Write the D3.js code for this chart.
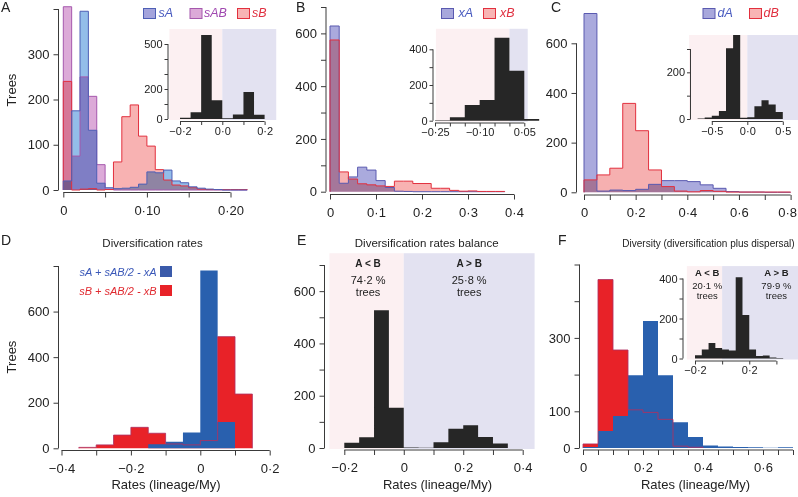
<!DOCTYPE html>
<html><head><meta charset="utf-8">
<script src="https://cdn.jsdelivr.net/npm/d3@7"></script>
<style>
body{margin:0;background:#fff}
svg{display:block}
text{font-family:"Liberation Sans",Arial,Helvetica,sans-serif}
</style>
</head><body>
<svg id="c" width="798" height="497"></svg>
<script>
// ================= DATA =================
// Panel A : speciation rates (bins of 0.01 starting at 0)
const aStart = 0, aWidth = 0.01;
const sA  = [20,175,395,132,15,5,3,4,6,13,40,38,44,20,16,7,4,2,1,0,0,0];
const sAB = [405,75,250,207,56,2,0,0,0,0,0,0,0,0,0,0,0,0,0,0,0,0];
const sB  = [240,0,2,3,0,1,62,162,188,119,97,45,22,11,9,5,2,1,1,1,1,1];
const aInsetStart = -0.2, aInsetWidth = 0.05;
const aInset = [8,45,560,125,5,30,180,28];
// Panel B : extinction rates (bins of 0.02)
const bStart = 0, bWidth = 0.02;
const xA = [628,32,56,93,82,42,16,2,1,0,0,0,0,0,0,0,0,0,0];
const xB = [575,75,48,30,26,22,20,40,40,31,31,13,13,5,2,3,1,1,1];
const bInsetStart = -0.25, bInsetWidth = 0.05;
const bInset = [3,19,88,116,465,280,9];
// Panel C : dispersal rates (bins of 0.05)
const cStart = 0, cWidth = 0.05;
const dA = [720,5,9,7,12,32,47,47,43,30,16,3,1,1,0,0];
const dB = [50,70,97,358,248,90,23,5,2,7,4,1,1,1,1,1];
const cInsetStart = -0.7, cInsetWidth = 0.1;
const cInset = [2,6,14,34,303,360,5,8,55,80,62,30];
// Panel D : diversification rates (bins of 0.05 from -0.35)
const dStart = -0.35, dWidth = 0.05;
const divA = [0,0,0,0,18,29,69,780,115,0];
const divB = [4,15,58,92,66,19,15,34,490,238];
// Panel E : balance (bins of 0.05 from -0.2)
const eStart = -0.2, eWidth = 0.05;
const balance = [20,41,527,154,2,1,22,74,87,42,17];
const eNotes = [["A < B","74·2 %","trees"],["A > B","25·8 %","trees"]];
// Panel F : diversity (bins of 0.05 from 0)
const fStart = 0, fWidth = 0.05;
const diversityA = [3,46,87,198,346,198,70,30,7,4,3,2,1,2];
const diversityB = [11,459,267,104,97,78,5,2];
const fInsetStart = -0.2, fInsetWidth = 0.05;
const fInset = [16,45,77,52,45,40,406,218,45,13,15,5,3];
const fNotes = [["A < B","20·1 %","trees"],["A > B","79·9 %","trees"]];

// tick values / labels
const aXTicks=[0,0.05,0.1,0.15,0.2], aXLabels=["0","","0·10","","0·20"];
const aYTicks=[0,100,200,300,400], aYLabels=["0","100","200","300",""];
const aiXTicks=[-0.2,-0.1,0,0.1,0.2], aiXLabels=["−0·2","","0·0","","0·2"];
const aiYTicks=[0,100,200,300,400,500], aiYLabels=["0","","200","","","500"];
const bXTicks=[0,0.1,0.2,0.3,0.4], bXLabels=["0","0·1","0·2","0·3","0·4"];
const bYTicks=[0,100,200,300,400,500,600,700], bYLabels=["0","","200","","400","","600",""];
const biXTicks=[-0.25,-0.2,-0.15,-0.1,-0.05,0,0.05], biXLabels=["−0·25","","","−0·10","","","0·05"];
const biYTicks=[0,100,200,300,400], biYLabels=["0","","200","","400"];
const cXTicks=[0,0.1,0.2,0.3,0.4,0.5,0.6,0.7,0.8], cXLabels=["0","","0·2","","0·4","","0·6","","0·8"];
const cYTicks=[0,200,400,600], cYLabels=["0","200","400","600"];
const ciXTicks=[-0.5,0,0.5], ciXLabels=["−0·5","0·0","0·5"];
const ciYTicks=[0,100,200,300], ciYLabels=["0","","200",""];
const dXTicks=[-0.4,-0.3,-0.2,-0.1,0,0.1,0.2], dXLabels=["−0·4","","−0·2","","0","","0·2"];
const dYTicks=[0,200,400,600,800], dYLabels=["0","200","400","600",""];
const eXTicks=[-0.2,-0.1,0,0.1,0.2,0.3,0.4], eXLabels=["−0·2","","0","","0·2","","0·4"];
const eYTicks=[0,100,200,300,400,500,600,700], eYLabels=["0","","200","","400","","600",""];
const fXTicks=[0,0.05,0.1,0.15,0.2,0.25,0.3,0.35,0.4,0.45,0.5,0.55,0.6,0.65,0.7],
      fXLabels=["0","","","","0·2","","","","0·4","","","","0·6","",""];
const fYTicks=[0,100,200,300,400,500], fYLabels=["0","100","","300","",""];
const fiXTicks=[-0.2,0,0.2,0.4], fiXLabels=["−0·2","","0·2",""];
const fiYTicks=[0,100,200,300,400], fiYLabels=["0","","200","","400"];

// ================= DRAWING =================
const svg = d3.select("#c");
const AX = "#3a3a3a", TX = "#222";
const PINK = "#fcf0f2", LAV = "#e3e2f1", BAR = "#262626";

function xAxis(x, yPos, ticks, labels, fs, tick, pad){
  const ax = d3.axisBottom(x).tickValues(ticks).tickFormat((d,i)=>labels[i])
    .tickSizeOuter(0).tickSize(tick).tickPadding(pad);
  const g = svg.append("g").attr("transform",`translate(0,${yPos})`).call(ax);
  g.select(".domain").attr("d",`M${x(ticks[0])},0H${x(ticks[ticks.length-1])}`);
  g.attr("font-family",null).attr("font-size",fs);
  g.selectAll("line,path").attr("stroke",AX);
  g.selectAll("text").attr("fill",TX);
  return g;
}
function yAxis(y, xPos, ticks, labels, fs, tick, pad){
  const ax = d3.axisLeft(y).tickValues(ticks).tickFormat((d,i)=>labels[i])
    .tickSizeOuter(0).tickSize(tick).tickPadding(pad);
  const g = svg.append("g").attr("transform",`translate(${xPos},0)`).call(ax);
  g.select(".domain").attr("d",`M0,${y(ticks[0])}V${y(ticks[ticks.length-1])}`);
  g.attr("font-family",null).attr("font-size",fs);
  g.selectAll("line,path").attr("stroke",AX);
  g.selectAll("text").attr("fill",TX);
  return g;
}
function pts(counts,start,width){
  const p=[{v:start,c:0}];
  counts.forEach((c,i)=>p.push({v:start+i*width,c}));
  p.push({v:start+counts.length*width,c:0});
  return p;
}
function histFill(x,y,counts,start,width,fill,blend){
  const area = d3.area().x(d=>x(d.v)).y0(y(0)).y1(d=>y(d.c)).curve(d3.curveStepAfter);
  const p = svg.append("path").attr("d",area(pts(counts,start,width))).attr("fill",fill);
  if(blend) p.style("mix-blend-mode","multiply");
  return p;
}
function histLine(x,y,counts,start,width,stroke,w){
  const line = d3.line().x(d=>x(d.v)).y(d=>y(d.c)).curve(d3.curveStepAfter);
  return svg.append("path").attr("d",line(pts(counts,start,width)))
    .attr("fill","none").attr("stroke",stroke).attr("stroke-width",w||1);
}
function bg(x,y,v0,vMid,v1,top){
  svg.append("rect").attr("x",x(v0)).attr("y",y(top)).attr("width",x(vMid)-x(v0))
    .attr("height",y(0)+1-y(top)).attr("fill",PINK);
  svg.append("rect").attr("x",x(vMid)).attr("y",y(top)).attr("width",x(v1)-x(vMid))
    .attr("height",y(0)+1-y(top)).attr("fill",LAV);
}
function txt(x,y,s,o){
  o=o||{};
  const t=svg.append("text").attr("x",x).attr("y",y).text(s)
    .attr("font-size",o.fs||13).attr("fill",o.fill||TX)
    .attr("text-anchor",o.anchor||"start");
  if(o.italic) t.attr("font-style","italic");
  if(o.bold) t.attr("font-weight","bold");
  if(o.rot) t.attr("transform",`rotate(-90,${x},${y})`);
  return t;
}
function swatch(x,y,fill,stroke){
  svg.append("rect").attr("x",x).attr("y",y).attr("width",12).attr("height",10)
    .attr("fill",fill).attr("stroke",stroke).attr("stroke-width",1);
}

// ---------- Panel A ----------
{
  const x = d3.scaleLinear().domain([0,0.22]).range([63.3,63.3+0.22*836]);
  const y = d3.scaleLinear().domain([0,400]).range([190,9]);
  histFill(x,y,sAB,aStart,aWidth,"#dcaad8",true);
  histFill(x,y,sB,aStart,aWidth,"#f8b2b2",true);
  histFill(x,y,sA,aStart,aWidth,"#93bde9",true);
  histLine(x,y,sAB,aStart,aWidth,"#a558ad");
  histLine(x,y,sB,aStart,aWidth,"#e2303e");
  histLine(x,y,sA,aStart,aWidth,"#4e5fb5");
  xAxis(x,192.5,aXTicks,aXLabels,13,5,8);
  yAxis(y,58.5,aYTicks,aYLabels,13,5,4);
  // inset
  const xi = d3.scaleLinear().domain([-0.2,0.2]).range([180,264.6]);
  const yi = d3.scaleLinear().domain([0,500]).range([119,44]);
  bg(xi,yi,-0.25,0,0.255,600);
  histFill(xi,yi,aInset,aInsetStart,aInsetWidth,BAR,false);
  xAxis(xi,121.5,aiXTicks,aiXLabels,11,3.5,2);
  yAxis(yi,168,aiYTicks,aiYLabels,11,3.5,2);
  // legend
  swatch(143.5,8.5,"#a4a4dc","#4e5fb5"); txt(158.5,17,"sA",{italic:true,fs:12.5,fill:"#4a5cc0"});
  swatch(190,8.5,"#dcaad8","#a558ad"); txt(204,17,"sAB",{italic:true,fs:12.5,fill:"#a048b0"});
  swatch(237.5,8.5,"#f8b4b4","#e2303e"); txt(252,17,"sB",{italic:true,fs:12.5,fill:"#e03040"});
  txt(1,12,"A",{fs:14});
  txt(16,90,"Trees",{fs:13,anchor:"middle",rot:true});
}
// ---------- Panel B ----------
{
  const x = d3.scaleLinear().domain([0,0.4]).range([330,514]);
  const y = d3.scaleLinear().domain([0,700]).range([191.7,7]);
  histFill(x,y,xB,bStart,bWidth,"#f8b2b2",true);
  histFill(x,y,xA,bStart,bWidth,"#aaaadd",true);
  histLine(x,y,xA,bStart,bWidth,"#5a5ab0");
  histLine(x,y,xB,bStart,bWidth,"#e2303e");
  xAxis(x,194.5,bXTicks,bXLabels,13,5,8);
  yAxis(y,326,bYTicks,bYLabels,13,5,4);
  const xi = d3.scaleLinear().domain([-0.25,0.05]).range([435,524.3]);
  const yi = d3.scaleLinear().domain([0,400]).range([120.7,49.3]);
  bg(xi,yi,-0.247,0,0.0615,515);
  histFill(xi,yi,bInset,bInsetStart,bInsetWidth,BAR,false);
  xAxis(xi,123,biXTicks,biXLabels,11,3.5,2);
  yAxis(yi,433,biYTicks,biYLabels,11,3.5,2);
  swatch(441.5,8.5,"#a8a8dc","#5a5ab0"); txt(458.5,17,"xA",{italic:true,fs:12.5,fill:"#4a5cc0"});
  swatch(483.5,8.5,"#f8b4b4","#e2303e"); txt(500,17,"xB",{italic:true,fs:12.5,fill:"#e03040"});
  txt(296,12,"B",{fs:14});
}
// ---------- Panel C ----------
{
  const x = d3.scaleLinear().domain([0,0.8]).range([584,790.6]);
  const y = d3.scaleLinear().domain([0,600]).range([192.3,43.3]);
  histFill(x,y,dA,cStart,cWidth,"#aaaadd",true);
  histFill(x,y,dB,cStart,cWidth,"#f6b0b0",true);
  histLine(x,y,dA,cStart,cWidth,"#5a5ab0");
  histLine(x,y,dB,cStart,cWidth,"#e2303e");
  const gx = xAxis(x,195,cXTicks,cXLabels,13,5,8);
  gx.selectAll("text").filter((d,i)=>i===cXTicks.length-1).attr("dx",-3.5);
  yAxis(y,576.5,cYTicks,cYLabels,13,5,4);
  const xi = d3.scaleLinear().domain([-0.5,0.5]).range([711.8,782.8]);
  const yi = d3.scaleLinear().domain([0,300]).range([119,49]);
  bg(xi,yi,-0.82,0,0.73,360);
  histFill(xi,yi,cInset,cInsetStart,cInsetWidth,BAR,false);
  xAxis(xi,121.5,ciXTicks,ciXLabels,11,3.5,2);
  yAxis(yi,690.5,ciYTicks,ciYLabels,11,3.5,2);
  swatch(703,8.5,"#a8a8dc","#5a5ab0"); txt(717.5,17,"dA",{italic:true,fs:12.5,fill:"#4a5cc0"});
  swatch(749.5,8.5,"#f8b4b4","#e2303e"); txt(763.5,17,"dB",{italic:true,fs:12.5,fill:"#e03040"});
  txt(551,12,"C",{fs:14});
}
// ---------- Panel D ----------
{
  const x = d3.scaleLinear().domain([-0.4,0.2]).range([61.5,269.7]);
  const y = d3.scaleLinear().domain([0,800]).range([448.3,266]);
  histFill(x,y,divB,dStart,dWidth,"#e82228",false);
  histFill(x,y,divA,dStart,dWidth,"#2960ae",false);
  histLine(x,y,divB,dStart,dWidth,"#b03060").attr("opacity",0.85);
  xAxis(x,450.5,dXTicks,dXLabels,13,5,8);
  yAxis(y,58.5,dYTicks,dYLabels,13,5,4);
  txt(156.5,275.5,"sA + sAB/2 - xA",{italic:true,fs:11,fill:"#3a58b8",anchor:"end"});
  svg.append("rect").attr("x",160).attr("y",266).attr("width",12).attr("height",11).attr("fill","#3a5aaa");
  txt(156.5,294.5,"sB + sAB/2 - xB",{italic:true,fs:11,fill:"#e02a30",anchor:"end"});
  svg.append("rect").attr("x",160).attr("y",285).attr("width",12).attr("height",11).attr("fill","#e82228");
  txt(1,245,"D",{fs:14});
  txt(152.5,246.5,"Diversification rates",{fs:11.5,anchor:"middle"});
  txt(16,357,"Trees",{fs:13,anchor:"middle",rot:true});
  txt(166,489,"Rates (lineage/My)",{fs:13,anchor:"middle"});
}
// ---------- Panel E ----------
{
  const x = d3.scaleLinear().domain([-0.2,0.4]).range([344.3,522.7]);
  const y = d3.scaleLinear().domain([0,700]).range([448,265]);
  bg(x,y,-0.25,0,0.44,745);
  histFill(x,y,balance,eStart,eWidth,BAR,false);
  xAxis(x,450,eXTicks,eXLabels,13,5,8);
  yAxis(y,324.5,eYTicks,eYLabels,13,5,4);
  [[-0.12,eNotes[0]],[0.22,eNotes[1]]].forEach(([v,n])=>{
    txt(x(v),267.3,n[0],{fs:10,bold:true,anchor:"middle"});
    txt(x(v),284,n[1],{fs:11,anchor:"middle"});
    txt(x(v),296,n[2],{fs:11,anchor:"middle"});
  });
  txt(297,245,"E",{fs:14});
  txt(426.7,246.5,"Diversification rates balance",{fs:11.5,anchor:"middle"});
  txt(437.5,489,"Rates (lineage/My)",{fs:13,anchor:"middle"});
}
// ---------- Panel F ----------
{
  const x = d3.scaleLinear().domain([0,0.7]).range([583,793]);
  const y = d3.scaleLinear().domain([0,500]).range([448,264.5]);
  histFill(x,y,diversityB,fStart,fWidth,"#e82228",false);
  histFill(x,y,diversityA,fStart,fWidth,"#2960ae",false);
  histLine(x,y,diversityB,fStart,fWidth,"#b03060").attr("opacity",0.85);
  xAxis(x,450,fXTicks,fXLabels,13,5,8);
  yAxis(y,579.5,fYTicks,fYLabels,13,5,4);
  const xi = d3.scaleLinear().domain([-0.2,0.4]).range([695,776.4]);
  const yi = d3.scaleLinear().domain([0,400]).range([358.5,278.5]);
  bg(xi,yi,-0.26,0,0.56,462);
  histFill(xi,yi,fInset,fInsetStart,fInsetWidth,BAR,false);
  xAxis(xi,361,fiXTicks,fiXLabels,11,3.5,2);
  yAxis(yi,683,fiYTicks,fiYLabels,11,3.5,2);
  [[-0.11,fNotes[0]],[0.4,fNotes[1]]].forEach(([v,n])=>{
    txt(xi(v),275.7,n[0],{fs:9.5,bold:true,anchor:"middle"});
    txt(xi(v),288.5,n[1],{fs:9.5,anchor:"middle"});
    txt(xi(v),298.5,n[2],{fs:9.5,anchor:"middle"});
  });
  txt(558,245,"F",{fs:14});
  txt(708.5,246.5,"Diversity (diversification plus dispersal)",{fs:10,anchor:"middle"});
  txt(695.5,489,"Rates (lineage/My)",{fs:13,anchor:"middle"});
}
</script>
</body></html>
